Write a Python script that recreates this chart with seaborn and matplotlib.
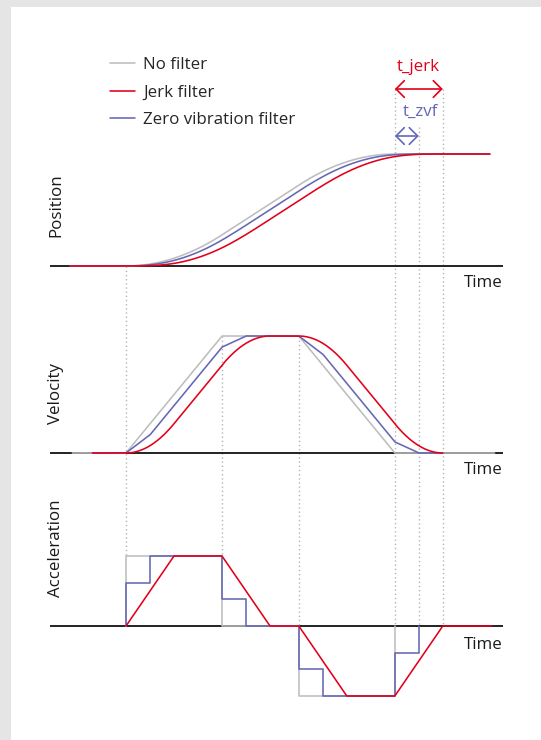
import numpy as np
import pandas as pd
import matplotlib
matplotlib.use("Agg")
import matplotlib.pyplot as plt
from matplotlib.patches import Rectangle
from matplotlib.lines import Line2D
import seaborn as sns

# ---------------- data ----------------
series_names = ["No filter", "Jerk filter", "Zero vibration filter"]
panel_names = ["Position", "Velocity", "Acceleration"]
x_label = "Time"

# acceleration profiles (time unit = length of the unfiltered accel phase)
nofilter_acc_t = [0.0, 0.0, 1.0, 1.0, 1.8, 1.8, 2.8, 2.8]
nofilter_acc_a = [0.0, 1.0, 1.0, 0.0, 0.0, -1.0, -1.0, 0.0]
zvf_acc_t = [0.0, 0.0, 0.25, 0.25, 1.0, 1.0, 1.25, 1.25,
             1.8, 1.8, 2.05, 2.05, 2.8, 2.8, 3.05, 3.05]
zvf_acc_a = [0.0, 0.62, 0.62, 1.0, 1.0, 0.38, 0.38, 0.0,
             0.0, -0.62, -0.62, -1.0, -1.0, -0.38, -0.38, 0.0]
jerk_acc_t = [0.0, 0.5, 1.0, 1.5, 1.8, 2.3, 2.8, 3.3, 3.81]
jerk_acc_a = [0.0, 1.0, 1.0, 0.0, 0.0, -1.0, -1.0, 0.0, 0.0]

# time marks (dotted guides) and filter times
t_marks = [0.0, 1.0, 1.8, 2.8, 3.05, 3.3]
t_zvf = 0.25
t_jerk = 0.5
annot_labels = ["t_jerk", "t_zvf"]

# visible extent of the drawn curves
pos_span = {"No filter": (-0.58, 3.79), "Zero vibration filter": (-0.58, 3.79),
            "Jerk filter": (-0.58, 3.79)}
vel_span = {"No filter": (-0.56, 3.84), "Zero vibration filter": (-0.35, 3.3),
            "Jerk filter": (-0.35, 3.3)}

# ---------------- style ----------------
sns.set_style("white")
plt.rcParams["font.family"] = ["Open Sans", "DejaVu Sans"]
GRAY, RED, BLUE = "#bdbdbd", "#e2001a", "#6468b4"
colors = {"No filter": GRAY, "Jerk filter": RED, "Zero vibration filter": BLUE}
FS = 12.2

W, H = 541, 740
fig = plt.figure(figsize=(W / 100, H / 100), dpi=100, facecolor="#e5e5e5")
fig.patches.append(Rectangle((11 / W, 0), 1, 1 - 7 / H, transform=fig.transFigure,
                             facecolor="white", edgecolor="none", zorder=0))

PX = 96.0          # pixels per time unit
T0 = 126.0         # pixel x of t = 0
XMIN, XMAX = (50 - T0) / PX, (503 - T0) / PX


def add_panel(top_px, bottom_px, zero_px, ppu):
    ax = fig.add_axes([50 / W, 1 - bottom_px / H, 453 / W, (bottom_px - top_px) / H])
    ax.set_xlim(XMIN, XMAX)
    ax.set_ylim(-(bottom_px - zero_px) / ppu, (zero_px - top_px) / ppu)
    ax.axis("off")
    ax.set_zorder(2)
    return ax


# overlay for guides / annotations: x in time units, y in pixels
ov = fig.add_axes([0, 0, 1, 1])
ov.set_xlim(-T0 / PX, (W - T0) / PX)
ov.set_ylim(H, 0)
ov.axis("off")
ov.set_zorder(1)

# integrate the acceleration profiles for velocity & position
dt = 0.0005
tg = np.arange(-1.0, 4.2, dt)
acc_sets = {"No filter": (nofilter_acc_t, nofilter_acc_a),
            "Zero vibration filter": (zvf_acc_t, zvf_acc_a),
            "Jerk filter": (jerk_acc_t, jerk_acc_a)}
frames = []
for name, (tt, aa) in acc_sets.items():
    a = np.interp(tg, tt, aa, left=0.0, right=0.0)
    v = np.cumsum(a) * dt
    p = np.cumsum(v) * dt
    frames.append(pd.DataFrame({"t": tg, "v": v, "p": p, "series": name}))
kin = pd.concat(frames, ignore_index=True)
p_final = kin.loc[kin.series == "No filter", "p"].iloc[-1]

pos_zero, pos_top = 266, 154
vel_zero, vel_top = 453, 336
acc_zero, acc_amp = 626, 70

ax_p = add_panel(130, 290, pos_zero, (pos_zero - pos_top) / p_final)
ax_v = add_panel(315, 480, vel_zero, vel_zero - vel_top)
ax_a = add_panel(535, 715, acc_zero, acc_amp)

LW = 1.15
for ax in (ax_p, ax_v, ax_a):
    ax.axhline(0, color="#111111", lw=1.3, zorder=1)

order = ["No filter", "Zero vibration filter", "Jerk filter"]
for i, name in enumerate(order):
    d = kin[kin.series == name]
    lo, hi = pos_span[name]
    dp = d[(d.t >= lo) & (d.t <= hi)]
    sns.lineplot(x=dp.t.values, y=dp.p.values, ax=ax_p, color=colors[name], lw=LW,
                 estimator=None, sort=False, zorder=3 + i)
    lo, hi = vel_span[name]
    dv = d[(d.t >= lo) & (d.t <= hi)]
    sns.lineplot(x=dv.t.values, y=dv.v.values, ax=ax_v, color=colors[name], lw=LW,
                 estimator=None, sort=False, zorder=3 + i)
    tt, aa = acc_sets[name]
    sns.lineplot(x=tt, y=aa, ax=ax_a, color=colors[name], lw=LW,
                 estimator=None, sort=False, zorder=3 + i)

for ax in (ax_p, ax_v, ax_a):
    ax.set_xlim(XMIN, XMAX)
    if ax.get_legend():
        ax.get_legend().remove()

# dotted guides (pixel y ranges)
guide_y = [(266, acc_zero - acc_amp), (336, acc_zero - acc_amp), (336, acc_zero),
           (89, acc_zero), (127, acc_zero), (89, acc_zero)]
for t, (y0, y1) in zip(t_marks, guide_y):
    ov.plot([t, t], [y0, y1], color="#b5b5b5", lw=1.0, ls=(0, (1, 2)), zorder=1)

# filter-time arrows
arrow_style = "<->,head_length=0.6,head_width=0.6"
ov.annotate("", xy=(t_marks[3], 89), xytext=(t_marks[3] + t_jerk, 89),
            arrowprops=dict(arrowstyle=arrow_style, color=RED, lw=1.2,
                            shrinkA=0, shrinkB=0))
ov.text(t_marks[3] + t_jerk / 2, 67, annot_labels[0], color=RED, fontsize=FS,
        ha="center", va="center")
ov.annotate("", xy=(t_marks[3], 136), xytext=(t_marks[3] + t_zvf, 136),
            arrowprops=dict(arrowstyle=arrow_style, color=BLUE, lw=1.2,
                            shrinkA=0, shrinkB=0))
ov.text((420 - T0) / PX, 112, annot_labels[1], color=BLUE, fontsize=FS,
        ha="center", va="center")

# panel labels
for name, yc in zip(panel_names, [205, 393, 548]):
    fig.text(56 / W, 1 - yc / H, name, rotation=90, ha="center", va="center",
             fontsize=FS, color="#1a1a1a")
for yc in [283, 470, 645]:
    fig.text(503 / W, 1 - yc / H, x_label, ha="right", va="center",
             fontsize=FS, color="#1a1a1a")

# legend
handles = [Line2D([], [], color=colors[n], lw=LW) for n in series_names]
fig.legend(handles, series_names, loc="upper left", bbox_to_anchor=(110 / W, 1 - 57 / H),
           frameon=False, fontsize=FS, handlelength=1.45, handletextpad=0.5,
           labelspacing=0.68, borderpad=0, borderaxespad=0)

fig.savefig("out.png", dpi=100, facecolor=fig.get_facecolor())
